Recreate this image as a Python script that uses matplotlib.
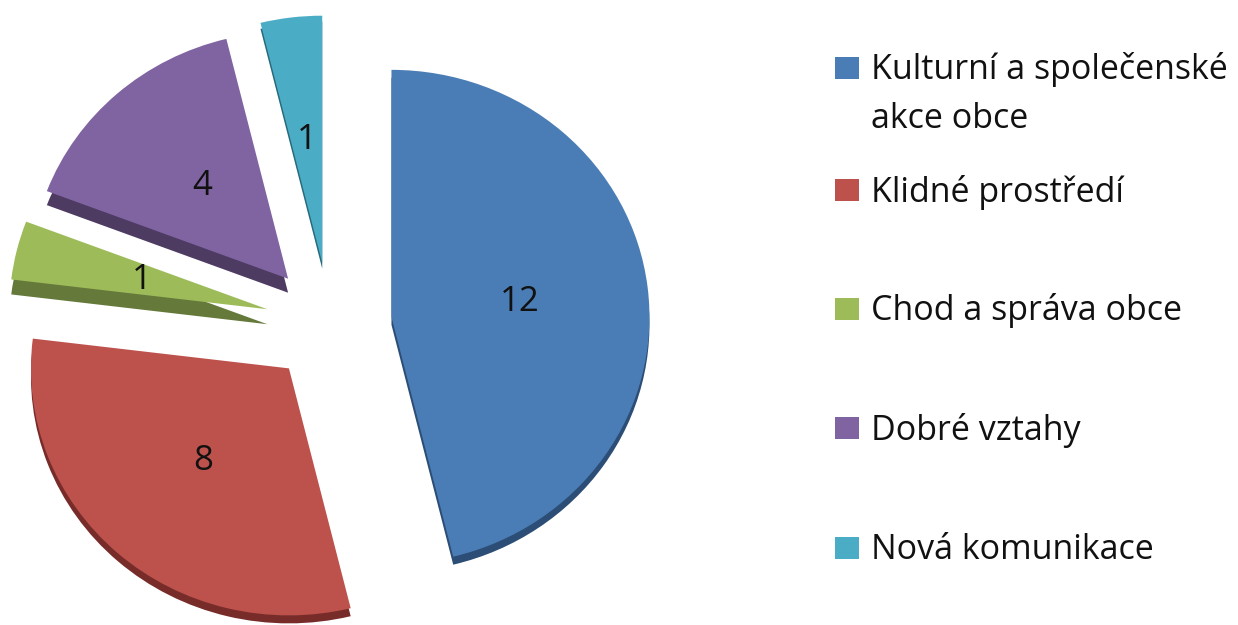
import matplotlib
matplotlib.use('Agg')
import matplotlib.pyplot as plt
from matplotlib.patches import Rectangle

categories = ['Kulturní a společenské\nakce obce', 'Klidné prostředí', 'Chod a správa obce',
              'Dobré vztahy', 'Nová komunikace']
values = [12, 8, 1, 4, 1]
explode = [0.24, 0.24, 0.25, 0.245, 0.25]
colors = ['#4a7db5', '#bd514c', '#9dbb59', '#8064a2', '#4bacc6']
side_colors = ['#2c4d75', '#772c2a', '#64793a', '#4d3b62', '#276a7c']
# how far the side of each slice shows below its top, in pixels
side_depth = [8, 8, 15, 14, 6]

W, H = 1238, 625
cx, cy = 330, 324   # pie centre in pixels
ux, uy = 258, 247   # pixels per unit radius

plt.rcParams['font.family'] = ['Open Sans', 'DejaVu Sans']
fig = plt.figure(figsize=(W / 100, H / 100), dpi=100)

# squashed axes so the circle looks tilted like the 3D original
ax = fig.add_axes([0, 0, 1, 1])
for i, d in enumerate(side_depth):
    only_this = [c if j == i else 'none' for j, c in enumerate(side_colors)]
    ax.pie(values, colors=only_this, explode=explode, startangle=90, counterclock=False,
           radius=1, center=(0, -d / uy), frame=False)
ax.pie(values, colors=colors, explode=explode, startangle=90, counterclock=False,
       radius=1, center=(0, 0), frame=False,
       autopct=lambda p: '%d' % round(p * sum(values) / 100), pctdistance=0.5,
       textprops={'fontsize': 25, 'color': '#111111'})
ax.set_aspect('auto')
ax.set_xlim(-cx / ux, (W - cx) / ux)
ax.set_ylim((cy - H) / uy, cy / uy)

# legend in pixel coordinates
lax = fig.add_axes([0, 0, 1, 1])
lax.set_xlim(0, W)
lax.set_ylim(H, 0)
lax.axis('off')
legend_y = [68, 190, 309, 428, 548]
for name, col, y in zip(categories, colors, legend_y):
    lax.add_patch(Rectangle((835, y - 11), 24, 22, facecolor=col, edgecolor='none'))
    lax.text(871, y + 26 if '\n' in name else y + 2, name, va='center', ha='left',
             fontsize=24.5, color='#111111', linespacing=1.57)

fig.savefig('out.png', dpi=100)
